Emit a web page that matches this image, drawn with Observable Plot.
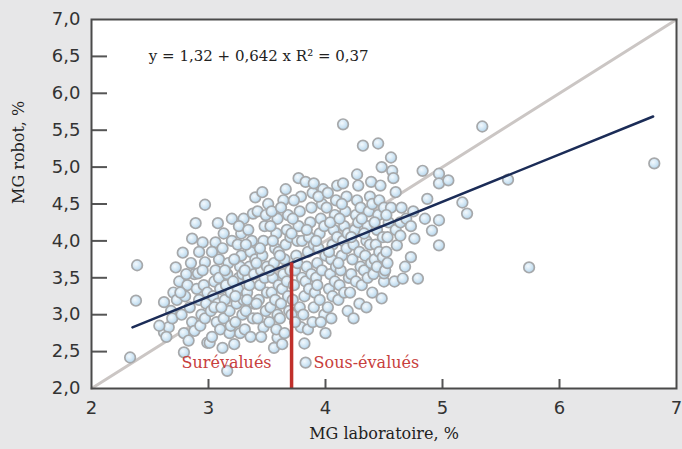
<!DOCTYPE html>
<html>
<head>
<meta charset="utf-8">
<script src="https://cdn.jsdelivr.net/npm/d3@7"></script>
<script src="https://cdn.jsdelivr.net/npm/@observablehq/plot@0.6"></script>
<style>
  html, body { margin: 0; padding: 0; background: #e7e7e8; }
  #chart svg { display: block; }
</style>
</head>
<body>
<svg width="0" height="0" style="position:absolute">
  <defs>
    <radialGradient id="ball" cx="40%" cy="38%" r="65%">
      <stop offset="0%" stop-color="#f4f9fd"/>
      <stop offset="55%" stop-color="#d2e7f5"/>
      <stop offset="100%" stop-color="#b3d3ea"/>
    </radialGradient>
  </defs>
</svg>
<div id="chart"></div>
<script>
// Axis ticks
const xTicks = [2, 3, 4, 5, 6, 7];
const yTicks = [2, 2.5, 3, 3.5, 4, 4.5, 5, 5.5, 6, 6.5, 7];

// Regression y = a + b x
const intercept = 1.32;
const slope = 0.642;
const regRange = [2.35, 6.8];
const identityRange = [2, 7];
const threshold = 3.71;

const equationText = "y = 1,32 + 0,642 x R² = 0,37";
const labelOver = "Surévalués";
const labelUnder = "Sous-évalués";

// [MG laboratoire, MG robot]
const points = [
  [2.33,2.42],[2.39,3.67],[2.38,3.19],
  [2.62,2.76],[2.62,3.17],[2.66,2.83],[2.58,2.85],[2.68,3.05],[2.64,2.7],[2.7,3.3],[2.72,3.64],[2.69,2.95],[2.73,3.2],[2.75,3.45],
  [2.78,3.84],[2.79,2.75],[2.79,2.49],[2.77,3.0],[2.8,3.25],[2.82,3.4],[2.84,3.1],[2.86,2.9],[2.86,4.03],[2.89,4.24],[2.88,3.55],[2.85,3.7],[2.83,2.65],[2.9,3.35],[2.88,2.78],[2.81,3.55],[2.76,3.3],
  [2.97,4.49],[2.95,3.98],[2.91,3.56],[2.97,3.71],[2.92,3.2],[2.94,3.0],[2.96,3.4],[2.93,2.85],[2.98,3.15],[2.99,2.62],[2.95,3.6],[2.97,2.95],[2.92,3.85],[2.99,3.3],
  [3.01,2.62],[3.03,2.7],[3.06,3.98],[3.08,4.24],[3.02,3.05],[3.04,3.25],[3.05,3.45],[3.06,3.6],[3.07,2.9],[3.08,3.15],[3.09,3.75],[3.03,3.85],[3.1,3.35],[3.1,2.8],[3.05,3.1],[3.09,3.5],
  [3.16,2.24],[3.12,2.55],[3.13,2.95],[3.14,3.2],[3.15,3.4],[3.16,3.55],[3.17,3.7],[3.18,3.05],[3.12,3.9],[3.19,3.3],[3.11,3.1],[3.2,4.3],[3.18,2.75],[3.14,3.6],[3.19,2.85],[3.2,4.0],[3.13,4.1],
  [3.22,2.6],[3.23,2.9],[3.24,3.15],[3.25,3.35],[3.26,3.5],[3.27,3.65],[3.28,3.8],[3.29,3.0],[3.21,3.45],[3.22,3.75],[3.3,4.3],[3.28,4.1],[3.25,3.95],[3.27,2.75],[3.3,3.2],[3.23,3.25],[3.29,3.55],[3.26,4.2],
  [3.31,2.8],[3.32,3.05],[3.33,3.3],[3.34,3.5],[3.35,3.65],[3.36,3.85],[3.37,4.0],[3.38,4.37],[3.4,4.59],[3.32,3.95],[3.39,3.15],[3.38,2.95],[3.35,3.4],[3.34,4.15],[3.4,3.75],[3.31,3.6],[3.36,2.7],[3.39,3.55],[3.33,3.2],
  [3.46,4.66],[3.47,2.83],[3.42,2.95],[3.43,3.2],[3.44,3.4],[3.45,3.6],[3.46,3.8],[3.47,4.0],[3.48,4.2],[3.49,3.05],[3.41,3.7],[3.42,4.4],[3.5,3.3],[3.44,3.9],[3.48,3.5],[3.45,2.7],[3.49,4.35],[3.41,3.15],[3.5,3.65],
  [3.59,2.69],[3.52,2.9],[3.53,3.1],[3.54,3.3],[3.55,3.5],[3.56,3.7],[3.57,3.9],[3.58,4.1],[3.59,4.3],[3.51,4.5],[3.52,3.6],[3.6,3.4],[3.55,4.0],[3.57,3.2],[3.58,2.8],[3.53,4.2],[3.6,3.85],[3.56,2.55],[3.54,4.4],[3.59,3.0],
  [3.64,4.55],[3.61,2.95],[3.62,3.15],[3.63,3.35],[3.64,3.55],[3.65,3.75],[3.66,3.95],[3.67,4.15],[3.68,4.35],[3.69,3.05],[3.62,4.45],[3.7,3.6],[3.65,2.75],[3.68,3.25],[3.66,4.7],[3.61,3.8],[3.7,4.05],[3.63,2.6],[3.67,3.45],
  [3.77,4.85],[3.79,2.83],[3.71,3.0],[3.72,3.2],[3.73,3.4],[3.74,3.6],[3.75,3.8],[3.76,4.0],[3.77,4.2],[3.78,4.4],[3.79,4.6],[3.72,4.3],[3.8,3.5],[3.74,2.9],[3.78,3.1],[3.76,3.7],[3.71,4.1],[3.8,4.0],[3.73,4.55],
  [3.83,4.8],[3.82,2.61],[3.83,2.35],[3.81,3.0],[3.82,3.25],[3.83,3.45],[3.84,3.65],[3.85,3.85],[3.86,4.05],[3.87,4.25],[3.88,4.45],[3.89,4.65],[3.9,3.1],[3.85,2.8],[3.88,3.55],[3.86,3.35],[3.9,3.95],[3.84,4.15],[3.9,4.78],[3.89,2.9],
  [3.91,3.3],[3.92,3.5],[3.93,3.7],[3.94,3.9],[3.95,4.1],[3.96,4.3],[3.97,4.5],[3.98,4.7],[3.99,3.0],[4.0,2.75],[3.92,4.0],[3.95,3.2],[3.97,3.6],[3.99,4.2],[3.94,4.6],[3.96,2.9],[4.0,3.8],[3.93,3.4],
  [4.02,3.1],[4.03,3.35],[4.04,3.55],[4.05,3.75],[4.06,3.95],[4.07,4.15],[4.08,4.35],[4.09,4.55],[4.1,4.75],[4.01,4.45],[4.05,2.95],[4.08,3.45],[4.03,3.85],[4.1,4.05],[4.06,3.25],[4.02,4.65],[4.09,3.65],[4.04,4.25],
  [4.15,5.58],[4.11,3.2],[4.12,3.4],[4.13,3.6],[4.14,3.8],[4.15,4.0],[4.16,4.2],[4.17,4.4],[4.18,4.6],[4.19,3.05],[4.2,3.5],[4.12,4.3],[4.16,3.3],[4.18,3.9],[4.15,4.78],[4.14,4.5],[4.19,4.1],[4.11,3.7],
  [4.21,3.3],[4.22,3.55],[4.23,3.75],[4.24,3.95],[4.25,4.15],[4.26,4.35],[4.27,4.55],[4.28,4.75],[4.29,3.15],[4.3,3.65],[4.22,4.05],[4.26,3.45],[4.28,4.25],[4.3,4.45],[4.24,2.95],[4.29,3.85],[4.27,4.9],
  [4.32,5.29],[4.31,3.4],[4.33,3.6],[4.34,3.8],[4.35,4.0],[4.36,4.2],[4.37,4.4],[4.38,4.6],[4.39,4.8],[4.4,3.3],[4.33,4.1],[4.36,3.5],[4.38,3.95],[4.4,4.5],[4.35,3.1],[4.31,4.3],[4.39,3.7],
  [4.45,5.32],[4.48,3.22],[4.41,3.55],[4.42,3.75],[4.43,3.95],[4.44,4.15],[4.45,4.35],[4.46,4.55],[4.47,4.75],[4.48,5.0],[4.5,3.45],[4.42,4.25],[4.44,3.65],[4.49,4.05],[4.5,4.45],[4.46,3.85],[4.49,3.78],[4.5,3.56],
  [4.56,5.13],[4.57,4.95],[4.51,3.6],[4.52,3.85],[4.53,4.05],[4.54,4.25],[4.56,4.45],[4.6,4.66],[4.58,4.85],[4.59,3.45],[4.6,4.15],[4.53,3.7],[4.61,3.94],[4.52,4.35],
  [4.66,3.49],[4.64,4.07],[4.64,4.25],[4.65,4.45],[4.68,3.65],[4.69,4.3],[4.73,4.2],[4.73,3.78],[4.79,3.49],[4.76,4.03],[4.75,4.4],
  [4.83,4.95],[4.87,4.57],[4.91,4.14],[4.97,4.28],[4.97,3.94],[4.97,4.91],[4.97,4.78],[4.85,4.3],
  [5.05,4.82],[5.17,4.52],[5.21,4.37],[5.34,5.55],[5.56,4.83],[5.74,3.64],[6.81,5.05]
];

const serif = "DejaVu Serif";

const chart = Plot.plot({
  width: 682,
  height: 449,
  marginLeft: 91,
  marginRight: 6,
  marginTop: 19,
  marginBottom: 61,
  style: { background: "#e7e7e8", fontFamily: "DejaVu Sans", fontSize: "18px", color: "#333" },
  x: { domain: [2, 7] },
  y: { domain: [2, 7] },
  marks: [
    Plot.frame({ fill: "white", stroke: "none" }),
    // identity line
    Plot.line(identityRange, { x: d => d, y: d => d, stroke: "#cbc6c4", strokeWidth: 3 }),
    // points
    Plot.dot(points, { x: d => d[0], y: d => d[1], r: 5.3, fill: "url(#ball)", stroke: "#a6a8aa", strokeWidth: 1.7 }),
    // regression line
    Plot.line(regRange, { x: d => d, y: d => intercept + slope * d, stroke: "#1b2c57", strokeWidth: 2.5 }),
    // threshold
    Plot.ruleX([threshold], { y1: 2, y2: intercept + slope * threshold, stroke: "#c0302b", strokeWidth: 3.5 }),
    // inner ticks
    Plot.tickY(yTicks.slice(1, -1), { y: d => d, insetRight: 585 - 16, stroke: "#555", strokeWidth: 2 }),
    Plot.tickX(xTicks.slice(1, -1), { x: d => d, insetTop: 369 - 9, stroke: "#555", strokeWidth: 2 }),
    Plot.frame({ stroke: "#4a4a4a", strokeWidth: 2 }),
    Plot.axisY({ ticks: yTicks, tickSize: 0, tickPadding: 11, tickFormat: d => d.toFixed(1).replace(".", ","), label: null, fill: "#333" }),
    Plot.axisX({ ticks: xTicks, tickSize: 0, tickPadding: 13, tickFormat: d => String(d), label: null, fill: "#333" }),
    // labels
    Plot.text([equationText], { x: 2.49, y: 6.5, text: d => d, textAnchor: "start", fontFamily: serif, fontSize: 15, fill: "#222" }),
    Plot.text([labelOver], { x: threshold, y: 2.35, text: d => d, textAnchor: "end", dx: -20, fontFamily: serif, fontSize: 16, fill: "#c8403d" }),
    Plot.text([labelUnder], { x: threshold, y: 2.35, text: d => d, textAnchor: "start", dx: 22, fontFamily: serif, fontSize: 16, fill: "#c8403d" }),
    Plot.text(["MG robot, %"], { frameAnchor: "left", rotate: -90, dx: -73, text: d => d, fontFamily: serif, fontSize: 16, fill: "#222" }),
    Plot.text(["MG laboratoire, %"], { frameAnchor: "bottom", dy: 50, text: d => d, fontFamily: serif, fontSize: 16, fill: "#222" })
  ]
});
document.getElementById("chart").appendChild(chart);
</script>
</body>
</html>
